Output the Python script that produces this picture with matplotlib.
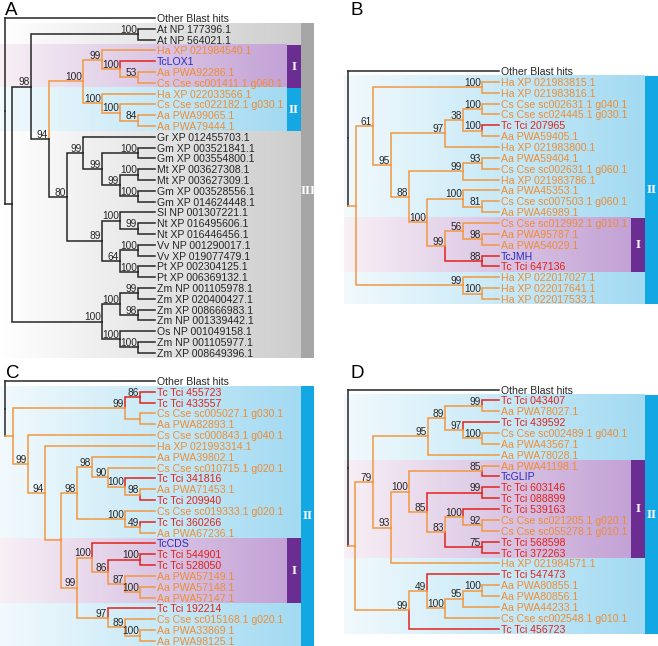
import numpy as np
import matplotlib.pyplot as plt
from matplotlib.colors import LinearSegmentedColormap
from matplotlib.patches import Rectangle

plt.rcParams['font.family'] = ['Liberation Sans', 'DejaVu Sans']

W, H = 658, 646
TIP = 155          # x where all tips end (px inside a panel)
PANEL_W = 314

BLACK = '#262626'
ORANGE = '#f29840'
ORANGE_TXT = '#ef8d35'
RED = '#e2231a'
BLUE = '#2b2fbf'
LINE = {'black': BLACK, 'orange': ORANGE, 'red': RED}

# trees: (node x, bootstrap, children...) ; leaves are names
tree_a = (5, None,
    "Other Blast hits",
    (12, None,
        (31, 98,
            (138, 100, "At NP 177396.1", "At NP 564021.1"),
            (49, 94,
                (83, 100,
                    (102, 99, "Ha XP 021984540.1",
                        (120, 100, "TcLOX1",
                            (138, 53, "Aa PWA92286.1", "Cs Cse sc001411.1 g060.1"))),
                    (102, 100, "Ha XP 022033566.1",
                        (120, 100, "Cs Cse sc022182.1 g030.1",
                            (138, 84, "Aa PWA99065.1", "Aa PWA79444.1")))),
                (67, 80,
                    (83, 99, "Gr XP 012455703.1",
                        (102, 99,
                            (138, 100, "Gm XP 003521841.1", "Gm XP 003554800.1"),
                            (120, 99,
                                (138, 100, "Mt XP 003627308.1", "Mt XP 003627309.1"),
                                (138, 100, "Gm XP 003528556.1", "Gm XP 014624448.1")))),
                    (102, 89,
                        (120, 100, "Sl NP 001307221.1",
                            (138, 99, "Nt XP 016495606.1", "Nt XP 016446456.1")),
                        (120, 64,
                            (138, 100, "Vv NP 001290017.1", "Vv XP 019077479.1"),
                            (138, 100, "Pt XP 002304125.1", "Pt XP 006369132.1")))))),
        (102, 100,
            (120, 100,
                (138, 99, "Zm NP 001105978.1", "Zm XP 020400427.1"),
                (138, 98, "Zm XP 008666983.1", "Zm NP 001339442.1")),
            (120, 100, "Os NP 001049158.1",
                (138, 100, "Zm NP 001105977.1", "Zm XP 008649396.1")))))

tree_b = (4, None,
    "Other Blast hits",
    (12, None,
        (29, 61,
            (138, 100, "Ha XP 021983815.1", "Ha XP 021983816.1"),
            (47, 95,
                (101, 97,
                    (119, 38,
                        (138, 100, "Cs Cse sc002631.1 g040.1", "Cs Cse sc024445.1 g030.1"),
                        (138, 100, "Tc Tci 207965", "Aa PWA59405.1")),
                    "Ha XP 021983800.1"),
                (65, 88,
                    (119, 99,
                        (138, 93, "Aa PWA59404.1", "Cs Cse sc002631.1 g060.1"),
                        "Ha XP 021983786.1"),
                    (83, 100,
                        (119, 100, "Aa PWA45353.1",
                            (138, 81, "Cs Cse sc007503.1 g060.1", "Aa PWA46989.1")),
                        (101, 99,
                            (119, 56, "Cs Cse sc012992.1 g010.1",
                                (138, 98, "Aa PWA95787.1", "Aa PWA54029.1")),
                            (138, 88, "TcJMH", "Tc Tci 647136")))))),
        (119, 99, "Ha XP 022017027.1",
            (138, 100, "Ha XP 022017641.1", "Ha XP 022017533.1"))))

tree_c = (5, None,
    "Other Blast hits",
    (13, None,
        (125, 99,
            (140, 86, "Tc Tci 455723", "Tc Tci 433557"),
            (140, None, "Cs Cse sc005027.1 g030.1", "Aa PWA82893.1")),
        (28, 99, "Cs Cse sc000843.1 g040.1",
            (45, 94, "Ha XP 021993314.1",
                (61, None,
                    (77, 98,
                        (92, 98, "Aa PWA39802.1",
                            (108, 90, "Cs Cse sc010715.1 g020.1",
                                (125, 100, "Tc Tci 341816",
                                    (140, 98, "Aa PWA71453.1", "Tc Tci 209940")))),
                        (125, 100, "Cs Cse sc019333.1 g020.1",
                            (140, 49, "Tc Tci 360266", "Aa PWA67236.1"))),
                    (77, 99,
                        (92, 100, "TcCDS",
                            (108, 86,
                                (140, 100, "Tc Tci 544901", "Tc Tci 528050"),
                                (125, 87, "Aa PWA57149.1",
                                    (140, 100, "Aa PWA57148.1", "Aa PWA57147.1")))),
                        (108, 97, "Tc Tci 192214",
                            (125, 89, "Cs Cse sc015168.1 g020.1",
                                (140, 100, "Aa PWA33869.1", "Aa PWA98125.1")))))))))

tree_d = (4, None,
    "Other Blast hits",
    (11, None,
        (29, 79,
            (84, 95,
                (101, 89,
                    (138, 99, "Tc Tci 043407", "Aa PWA78027.1"),
                    (119, 97, "Tc Tci 439592",
                        (138, 100, "Cs Cse sc002489.1 g040.1", "Aa PWA43567.1"))),
                "Aa PWA78028.1"),
            (47, 93,
                (65, 100,
                    (138, 85, "Aa PWA41198.1", "TcGLIP"),
                    (83, 85,
                        (138, 99, "Tc Tci 603146", "Tc Tci 088899"),
                        (101, 83,
                            (119, 100, "Tc Tci 539163",
                                (138, 92, "Cs Cse sc021205.1 g020.1", "Cs Cse sc055278.1 g010.1")),
                            (138, 75, "Tc Tci 568598", "Tc Tci 372263")))),
                "Ha XP 021984571.1")),
        (65, 99,
            (83, 49, "Tc Tci 547473",
                (101, 100,
                    (119, 95,
                        (138, 100, "Aa PWA80855.1", "Aa PWA80856.1"),
                        "Aa PWA44233.1"),
                    "Cs Cse sc002548.1 g010.1")),
            "Tc Tci 456723")))

# shaded groups: (first leaf, last leaf, style, numeral, outer?)
bands_a = [(1, 31, 'gray', 'III', True), (3, 6, 'purple', 'I', False), (7, 10, 'blue', 'II', False)]
bands_b = [(1, 21, 'blue', 'II', True), (14, 18, 'purple', 'I', False)]
bands_c = [(1, 24, 'blue', 'II', True), (15, 20, 'purple', 'I', False)]
bands_d = [(1, 22, 'blue', 'II', True), (7, 15, 'purple', 'I', False)]

STYLE = {
    'gray':   ('#ffffff', '#cdcdcd', '#a6a6a6'),
    'blue':   ('#f2fafd', '#a2daf2', '#13a8e4'),
    'purple': ('#f8f0f5', '#c3a2d6', '#6b2d91'),
}

# panel letter, tree, bands, x offset (px), y of first leaf (px), leaf spacing (px), letter pos
panels = [
    ('A', tree_a, bands_a, 0, 18.0, 10.8, (5, 15)),
    ('B', tree_b, bands_b, 344, 71.0, 10.86, (350, 15)),
    ('C', tree_c, bands_c, 0, 381.0, 10.83, (6, 378)),
    ('D', tree_d, bands_d, 344, 389.5, 10.87, (350, 378)),
]


def leaf_kind(name):
    if name.startswith("Tc Tci"):
        return 'red', RED
    if name.startswith("Tc"):
        return 'red', BLUE
    if name[:2] in ("Ha", "Aa", "Cs"):
        return 'orange', ORANGE_TXT
    return 'black', BLACK


def count(nd):
    return 1 if isinstance(nd, str) else sum(count(c) for c in nd[2:])


def draw(ax, node, names, root=False):
    if isinstance(node, str):
        y = len(names)
        names.append(node)
        kind, tcol = leaf_kind(node)
        ax.text(TIP + 2, y, node, color=tcol, fontsize=7.6,
                ha='left', va='center_baseline')
        return y, kind, TIP
    x, sup = node[0], node[1]
    kids = [draw(ax, c, names) for c in node[2:]]
    y = (kids[0][0] + kids[-1][0]) / 2
    kw = dict(lw=1.1, solid_capstyle='projecting', solid_joinstyle='miter', clip_on=False)
    for cy, kind, cx in kids:
        if root:
            ax.plot([x, x], [y, cy], color=BLACK, **kw)
            ax.plot([x, cx], [cy, cy], color=LINE[kind], **kw)
        else:
            ax.plot([x, x, cx], [y, cy, cy], color=LINE[kind], **kw)
    kinds = {k for _, k, _ in kids}
    kind = 'black' if 'black' in kinds else ('orange' if 'orange' in kinds else 'red')
    if sup is not None:
        ax.text(x - 1, y - 0.12, str(sup), fontsize=7.3, color=BLACK,
                ha='right', va='baseline')
    return y, kind, x


fig = plt.figure(figsize=(W / 100, H / 100), dpi=100)

for letter, tree, bands, x_off, top, sp, lpos in panels:
    n = count(tree)
    ax_top = top - sp / 2
    ax = fig.add_axes([x_off / W, 1 - (ax_top + n * sp) / H, PANEL_W / W, n * sp / H])
    ax.axis('off')

    for i0, i1, style, numeral, outer in bands:
        c0, c1, cbar = STYLE[style]
        x1 = 301 if outer else 287
        cmap = LinearSegmentedColormap.from_list(style, [c0, c1])
        ax.imshow(np.linspace(0, 1, 256)[None, :], cmap=cmap, aspect='auto',
                  extent=(0, x1, i1 + 0.5, i0 - 0.5), interpolation='bilinear',
                  zorder=0 if outer else 0.5)
        ax.add_patch(Rectangle((x1, i0 - 0.5), 14, i1 - i0 + 1, color=cbar, lw=0,
                               zorder=0 if outer else 0.5))
        ax.text(x1 + 7, (i0 + i1) / 2, numeral, color='white', fontsize=9.5,
                fontweight='bold', family=['Liberation Serif', 'DejaVu Serif'],
                ha='center', va='center', zorder=3)

    ax.set_xlim(0, PANEL_W)
    ax.set_ylim(n - 0.5, -0.5)
    draw(ax, tree, [], root=True)

    fig.text(lpos[0] / W, 1 - lpos[1] / H, letter, fontsize=13.5, color='black',
             ha='left', va='baseline')

fig.savefig('out.png', dpi=100)
